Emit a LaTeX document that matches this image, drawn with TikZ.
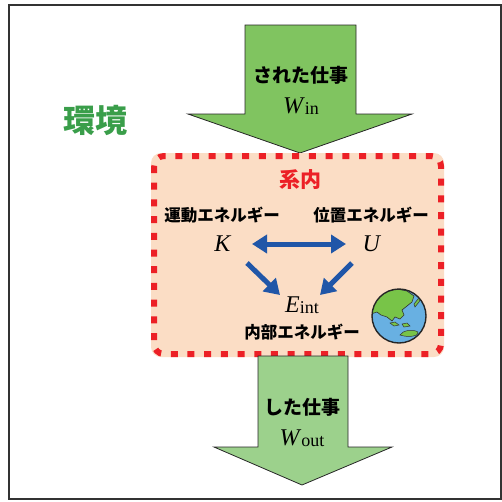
\documentclass[tikz,border=0pt]{standalone}
\usepackage{fontspec}
\setmainfont{Liberation Serif}
\newfontfamily\jpfont{Noto Sans CJK JP}
\usetikzlibrary{arrows.meta,calc}

\definecolor{inarrow}{RGB}{128,196,96}
\definecolor{outarrow}{RGB}{156,209,140}
\definecolor{envgreen}{RGB}{58,158,74}
\definecolor{sysred}{RGB}{236,32,38}
\definecolor{sysfill}{RGB}{251,221,197}
\definecolor{flowblue}{RGB}{32,86,168}
\definecolor{sea}{RGB}{104,176,226}
\definecolor{land}{RGB}{120,196,72}

% small upright index after an italic letter
\newcommand{\idx}[1]{\raisebox{-0.06em}{\fontsize{18}{18}\selectfont #1}}

\tikzset{
  jplabel/.style={font=\jpfont\bfseries\fontsize{16.5}{18}\selectfont},
  worklabel/.style={font=\jpfont\bfseries\fontsize{19}{20}\selectfont},
  varlabel/.style={font=\fontsize{24}{26}\selectfont, inner sep=1pt},
  workarrow/.style={draw=black!85, line width=0.8pt, line join=miter},
  energyarrow/.style={draw=flowblue, line width=5pt, -{Triangle[length=15pt,width=18pt]}},
}

\begin{document}
\begin{tikzpicture}[x=1pt,y=-1pt]
  \useasboundingbox (0,0) rectangle (502,501);
  \draw[line width=2pt, draw=black!80] (9,5) rectangle (500.5,499);

  % the surroundings
  \node[font=\jpfont\bfseries\fontsize{32}{34}\selectfont, text=envgreen] (env) at (95,120) {環境};

  % work done on the system
  \draw[workarrow, fill=inarrow] (245,25) -- (356,25) -- (356,114) -- (412,114)
    -- (300,153) -- (188,114) -- (245,114) -- cycle;
  \node[worklabel] (wintext) at (301,75) {された仕事};
  \node[varlabel] (win) at (301,106) {\textit{W}\idx{in}};

  % the system
  \fill[sysfill, rounded corners=10pt] (151,153) rectangle (444,357);
  \draw[sysred, line width=6pt, dash pattern=on 7pt off 9.7pt, rounded corners=10pt]
    (154,156) rectangle (441,354);
  \node[font=\jpfont\bfseries\fontsize{21}{22}\selectfont, text=sysred] (sys) at (300,180) {系内};

  \node[jplabel] (kelabel) at (222,215) {運動エネルギー};
  \node[jplabel] (pelabel) at (371,215) {位置エネルギー};
  \node[varlabel] (K) at (223,244) {\textit{K}};
  \node[varlabel] (U) at (372,244) {\textit{U}};
  \node[varlabel] (Eint) at (302,305) {\textit{E}\idx{int}};
  \node[jplabel] (ielabel) at (302,332) {内部エネルギー};

  \draw[energyarrow, {Triangle[length=15pt,width=18pt]}-{Triangle[length=15pt,width=18pt]}]
    ($(K)+(29,0)$) -- ($(U)+(-26,0)$);
  \draw[energyarrow] ($(K)+(24,19)$) -- ($(Eint)+(-22,-10)$);
  \draw[energyarrow] ($(U)+(-20,19)$) -- ($(Eint)+(18,-10)$);

  % the earth
  \begin{scope}[shift={(399,316)}]
    \fill[sea] (0,0) circle (27);
    \begin{scope}
      \clip (0,0) circle (27);
      \fill[land, draw=black!80, line width=0.6pt] (-28,-6) -- (-24,-16) -- (-14,-24) -- (-2,-27)
        -- (8,-25) -- (15,-20) -- (13,-14) -- (8,-10) -- (3,-6) -- (5,-1) -- (1,3)
        -- (-4,1) -- (-7,5) -- (-12,1) -- (-18,-1) -- (-22,-4) -- (-28,-2) -- cycle;
      \fill[land, draw=black!80, line width=0.5pt] (15,-12) -- (19,-17) -- (22,-18) -- (20,-14) -- (16,-9) -- cycle;
      \fill[land, draw=black!80, line width=0.5pt] (-9,7) -- (-4,6) -- (0,9) -- (-5,10) -- cycle;
      \fill[land, draw=black!80, line width=0.5pt] (3,8) -- (8,7) -- (11,10) -- (5,11) -- cycle;
      \fill[land, draw=black!80, line width=0.5pt] (1,19) .. controls (4,14) and (14,13) .. (19,16)
        .. controls (20,20) and (10,22) .. (1,19) -- cycle;
    \end{scope}
    \draw[black!85, line width=1.4pt] (0,0) circle (27);
  \end{scope}

  % work done by the system
  \draw[workarrow, fill=outarrow] (258,356) -- (348,356) -- (348,447) -- (392,447)
    -- (302,485) -- (214,447) -- (258,447) -- cycle;
  \node[worklabel] (wouttext) at (302,407) {した仕事};
  \node[varlabel] (wout) at (302,438) {\textit{W}\idx{out}};
\end{tikzpicture}
\end{document}
